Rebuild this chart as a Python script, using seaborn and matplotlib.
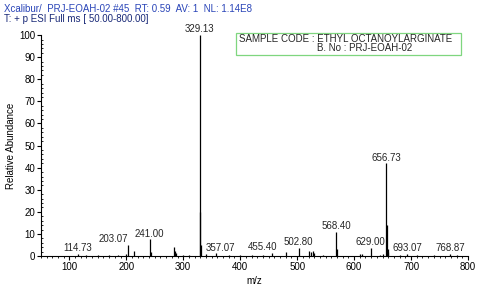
import matplotlib
matplotlib.use('Agg')
import matplotlib.pyplot as plt
from matplotlib.patches import Rectangle
from matplotlib.ticker import MultipleLocator
import seaborn as sns
import pandas as pd

# peak list (m/z, relative abundance)
mz = [114.73, 130, 150, 170, 185, 199, 203.07, 213, 241.00, 243, 283, 285, 287,
      300, 310, 329.13, 330.1, 331.1, 340, 357.07, 380, 400, 420, 440, 455.40,
      480, 502.80, 520, 524, 527, 530, 545, 568.40, 569.4, 610, 614, 629.00,
      645, 650, 656.73, 657.7, 658.7, 660, 680, 693.07, 710, 740, 768.87, 780]
abundance = [1.0, 0.5, 0.4, 0.5, 0.5, 1.0, 5.0, 2.5, 7.5, 2.0, 4.0, 2.5, 1.5,
             0.5, 0.5, 100, 20, 5, 0.8, 1.2, 0.5, 0.5, 0.6, 0.5, 1.5,
             2.0, 3.6, 2.5, 2.0, 2.5, 1.5, 0.5, 11, 3, 1.0, 1.0, 3.6,
             0.6, 1.0, 42, 14, 3, 2, 0.6, 0.8, 0.4, 0.5, 1.0, 0.5]

# labelled peaks
label_mz = [114.73, 203.07, 241.00, 329.13, 357.07, 455.40, 502.80, 568.40,
            629.00, 656.73, 693.07, 768.87]

header1 = "Xcalibur/  PRJ-EOAH-02 #45  RT: 0.59  AV: 1  NL: 1.14E8"
header2 = "T: + p ESI Full ms [ 50.00-800.00]"
box_line1 = "SAMPLE CODE : ETHYL OCTANOYLARGINATE"
box_line2 = "B. No : PRJ-EOAH-02"

df = pd.DataFrame({'mz': mz, 'abundance': abundance})

sns.set_theme(style='ticks')
plt.rcParams['font.family'] = ['Liberation Sans', 'DejaVu Sans']

fig = plt.figure(figsize=(4.86, 2.88), dpi=100)
ax = fig.add_axes([0.084, 0.111, 0.879, 0.767])

ax.vlines(df['mz'], 0, df['abundance'], color='black', linewidth=0.9)

# label placement tweaks like the instrument software does
shift = {357.07: 9, 455.40: -16}
for m in label_mz:
    h = df.loc[df['mz'] == m, 'abundance'].iloc[0]
    if m == 203.07:
        ax.text(m, h + 0.3, f"{m:.2f}", ha='right', va='bottom', fontsize=7)
    else:
        ax.text(m + shift.get(m, 0), max(h, 1.0) + 0.3, f"{m:.2f}",
                ha='center', va='bottom', fontsize=7)

ax.set_xlim(50, 800)
ax.set_ylim(0, 100)
ax.xaxis.set_major_locator(MultipleLocator(100))
ax.xaxis.set_minor_locator(MultipleLocator(10))
ax.yaxis.set_major_locator(MultipleLocator(10))
ax.yaxis.set_minor_locator(MultipleLocator(2))
ax.tick_params(axis='both', which='major', labelsize=7, length=3, width=0.8,
               pad=1, color='black', labelcolor='black')
ax.tick_params(axis='both', which='minor', length=1.5, width=0.6, color='black')
ax.tick_params(axis='y', which='minor', direction='in')
sns.despine(ax=ax)
for s in ['left', 'bottom']:
    ax.spines[s].set_linewidth(0.8)
    ax.spines[s].set_color('black')

ax.set_xlabel('m/z', fontsize=7, labelpad=3, color='black')
ax.set_ylabel('Relative Abundance', fontsize=7, labelpad=2, color='black')

fig.text(0.008, 0.985, header1, fontsize=7, color='#2a45b8', va='top')
fig.text(0.008, 0.952, header2, fontsize=7, color='#1a2a78', va='top')

# sample code box
fig.patches.append(Rectangle((0.4856, 0.809), 0.463, 0.0764, transform=fig.transFigure,
                             facecolor='white', edgecolor='#7fd67f', linewidth=0.9))
fig.text(0.4918, 0.866, box_line1, fontsize=7, va='center', ha='left')
fig.text(0.652, 0.832, box_line2, fontsize=7, va='center', ha='left')

fig.savefig('out.png', dpi=100)
